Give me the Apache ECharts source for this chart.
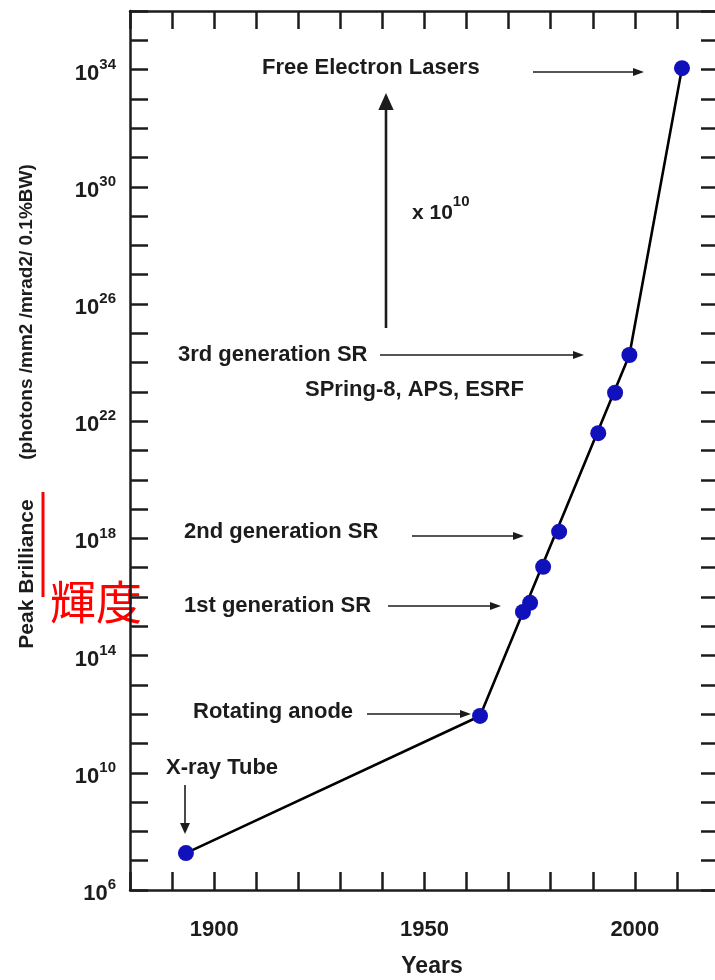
<!DOCTYPE html>
<html><head><meta charset="utf-8">
<script src="https://cdn.jsdelivr.net/npm/echarts@6/dist/echarts.min.js"></script>
<style>html,body{margin:0;padding:0;background:#fff;overflow:hidden}#c{width:715px;height:980px}</style>
</head><body><div id="c"></div>
<script>
// ---- data ----
const pointYears = [1893.3, 1963.2, 1973.4, 1975.1, 1978.2, 1982.0, 1991.3, 1995.3, 1998.7, 2011.2];
const pointExponents = [7.26, 11.94, 15.49, 15.80, 17.03, 18.23, 21.59, 22.97, 24.26, 34.05];
const trendYears = [1893.3, 1963.2, 1998.7, 2011.2];
const trendExponents = [7.26, 11.94, 24.26, 34.05];
const yLabelExponents = [6, 10, 14, 18, 22, 26, 30, 34];
const xLabelYears = [1900, 1950, 2000];
const xTitle = 'Years';
const yTitleMain = 'Peak Brilliance';
const yTitleUnit = '(photons /mm2 /mrad2/ 0.1%BW)';
const redNote = '輝度';
const notes = ['Free Electron Lasers', '3rd generation SR', 'SPring-8, APS, ESRF', '2nd generation SR', '1st generation SR', 'Rotating anode', 'X-ray Tube'];
const gainBase = 'x 10', gainExp = '10';

// ---- build ----
const FONT = '"Liberation Sans", Arial, sans-serif';
const INK = '#1c1c1c';
const pts = pointYears.map((y, i) => [y, Math.pow(10, pointExponents[i])]);
const trend = trendYears.map((y, i) => [y, Math.pow(10, trendExponents[i])]);

const chart = echarts.init(document.getElementById('c'), null, {renderer: 'canvas'});
const axisLineStyle = {color: INK, width: 2.5};
const tick = {show: true, inside: true, length: 18, lineStyle: {color: INK, width: 2.5}};

function txt(text, x, y, size, extra) {
  return Object.assign({type: 'text', style: {text, x, y, font: 'bold ' + size + 'px ' + FONT, fill: INK, textVerticalAlign: 'middle'}}, extra || {});
}
function hArrow(x1, x2, y) {
  return [
    {type: 'line', shape: {x1, y1: y, x2: x2 - 8, y2: y}, style: {stroke: INK, lineWidth: 1.6}},
    {type: 'polygon', shape: {points: [[x2, y], [x2 - 11, y - 4], [x2 - 11, y + 4]]}, style: {fill: INK}}
  ];
}
function vArrow(x, y1, y2, w, head) {
  const dir = y2 > y1 ? 1 : -1;
  return [
    {type: 'line', shape: {x1: x, y1, x2: x, y2: y2 - dir * head * 0.7}, style: {stroke: INK, lineWidth: w}},
    {type: 'polygon', shape: {points: [[x, y2], [x - head * 0.45, y2 - dir * head], [x + head * 0.45, y2 - dir * head]]}, style: {fill: INK}}
  ];
}

const graphics = [
  txt(notes[0], 262, 68, 22),
  ...hArrow(533, 644, 72),
  ...vArrow(386, 328, 93, 2.6, 17),
  {type: 'text', style: {text: '{a|' + gainBase + '}{b|' + gainExp + '}', x: 412, y: 208, textVerticalAlign: 'middle',
    rich: {a: {font: 'bold 21px ' + FONT, fill: INK, color: INK, padding: [10, 0, 0, 0]}, b: {font: 'bold 15px ' + FONT, color: INK, fill: INK, padding: [0, 0, 12, 0]}}}},
  txt(notes[1], 178, 355, 22),
  ...hArrow(380, 584, 355),
  txt(notes[2], 305, 390, 22),
  txt(notes[3], 184, 532, 22),
  ...hArrow(412, 524, 536),
  txt(notes[4], 184, 606, 22),
  ...hArrow(388, 501, 606),
  txt(notes[5], 193, 712, 22),
  ...hArrow(367, 471, 714),
  txt(notes[6], 166, 768, 22),
  ...vArrow(185, 785, 834, 1.6, 11),
  // axis titles
  {type: 'text', x: 27, y: 574, rotation: Math.PI / 2, style: {text: yTitleMain, x: 0, y: 0, font: 'bold 21px ' + FONT, fill: INK, textAlign: 'center', textVerticalAlign: 'middle'}},
  {type: 'text', x: 27, y: 312, rotation: Math.PI / 2, style: {text: yTitleUnit, x: 0, y: 0, font: 'bold 19px ' + FONT, fill: INK, textAlign: 'center', textVerticalAlign: 'middle'}},
  {type: 'text', style: {text: xTitle, x: 432, y: 967, font: 'bold 23px ' + FONT, fill: INK, textAlign: 'center', textVerticalAlign: 'middle'}},
  // red annotation
  {type: 'line', shape: {x1: 43, y1: 492, x2: 43, y2: 597}, style: {stroke: '#ff0000', lineWidth: 3}},
  {type: 'text', style: {text: redNote, x: 50, y: 602, font: '46px "Noto Sans CJK JP", sans-serif', fill: '#ff0000', textVerticalAlign: 'middle'}}
];

const yAxisBase = {
  type: 'log', logBase: 10, min: 1e6, max: 1e36, interval: 1,
  axisLine: {show: true, lineStyle: axisLineStyle}, axisTick: tick,
  splitLine: {show: false}, minorTick: {show: false}
};
const xAxisBase = {
  type: 'value', min: 1880, max: 2020, interval: 10,
  axisLine: {show: true, onZero: false, lineStyle: axisLineStyle}, axisTick: tick,
  splitLine: {show: false}
};

chart.setOption({
  animation: false,
  backgroundColor: '#ffffff',
  grid: {left: 130, top: 11, width: 589, height: 879, containLabel: false, outerBoundsMode: 'none'},
  xAxis: [
    Object.assign({}, xAxisBase, {position: 'bottom',
      axisLabel: {show: true, margin: 29, color: INK, fontFamily: FONT, fontWeight: 'bold', fontSize: 22,
        formatter: v => xLabelYears.includes(v) ? String(v) : ''}}),
    Object.assign({}, xAxisBase, {position: 'top', axisLabel: {show: false}})
  ],
  yAxis: [
    Object.assign({}, yAxisBase, {position: 'left',
      axisLabel: {show: true, margin: 14, formatter: v => {
        const e = Math.round(Math.log10(v));
        return yLabelExponents.includes(e) ? '{b|10}{s|' + e + '}' : '';
      }, rich: {
        b: {fontFamily: FONT, fontWeight: 'bold', fontSize: 22, color: INK, padding: [8, 0, 0, 0]},
        s: {fontFamily: FONT, fontWeight: 'bold', fontSize: 15, color: INK, padding: [0, 0, 10, 0]}
      }}}),
    Object.assign({}, yAxisBase, {position: 'right', axisLabel: {show: false}})
  ],
  series: [
    {type: 'line', data: trend, xAxisIndex: 0, yAxisIndex: 0, showSymbol: false, symbol: 'none',
      lineStyle: {color: '#000', width: 2.6}, z: 2, silent: true},
    {type: 'scatter', data: pts, xAxisIndex: 0, yAxisIndex: 0, symbol: 'circle', symbolSize: 16,
      itemStyle: {color: '#1111bb', opacity: 1}, z: 3, silent: true}
  ],
  graphic: graphics
});
</script></body></html>
